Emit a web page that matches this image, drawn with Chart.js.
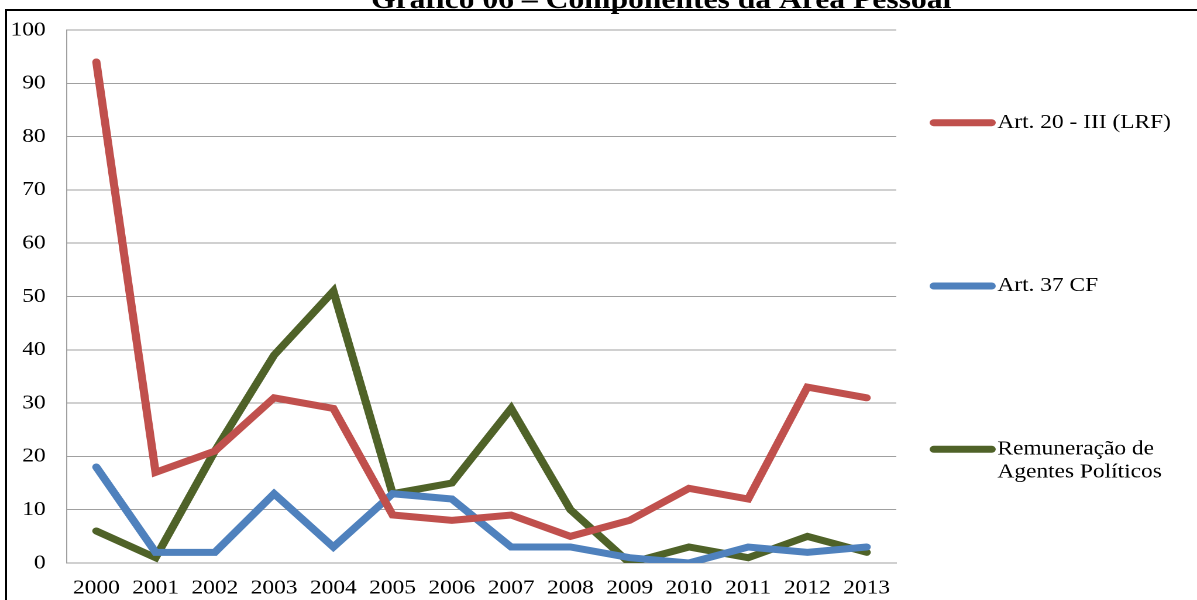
<!DOCTYPE html>
<html>
<head>
<meta charset="utf-8">
<script src="https://cdn.jsdelivr.net/npm/chart.js@4/dist/chart.umd.min.js"></script>
<style>
  html, body { margin: 0; padding: 0; background: #fff; overflow: hidden; width: 1197px; height: 600px; }
  #frame { position: absolute; left: 5px; top: 9px; width: 1400px; height: 800px;
           border-left: 2px solid #000; border-top: 2px solid #000; z-index: 0; }
  #wrap { position: absolute; left: 0; top: -30px; width: 1023px; height: 630px;
          transform: scaleX(1.1701); transform-origin: 0 0; z-index: 1; }
</style>
</head>
<body>
<div id="frame"></div>
<div id="wrap"><canvas id="c" width="1023" height="630"></canvas></div>
<script>
const chartTitle = 'Gráfico 06 – Componentes da Área Pessoal';
const years = ['2000','2001','2002','2003','2004','2005','2006','2007','2008','2009','2010','2011','2012','2013'];
const art20 = [94, 17, 21, 31, 29, 9, 8, 9, 5, 8, 14, 12, 33, 31];
const art37 = [18, 2, 2, 13, 3, 13, 12, 3, 3, 1, 0, 3, 2, 3];
const remuneracao = [6, 1, 21, 39, 51, 13, 15, 29, 10, 0, 3, 1, 5, 2];
const seriesLines = [['Art. 20 - III (LRF)'], ['Art. 37 CF'], ['Remuneração de', 'Agentes Políticos']];
const seriesColors = ['#C0504D', '#4F81BD', '#4F6228'];
const seriesData = [art20, art37, remuneracao];
const yTicks = [0, 10, 20, 30, 40, 50, 60, 70, 80, 90, 100];

const FONT = "'Liberation Serif', 'Times New Roman', serif";

const titlePlugin = {
  id: 'customTitle',
  afterDraw(chart) {
    const ctx = chart.ctx;
    ctx.save();
    ctx.font = "bold 27px " + FONT;
    ctx.fillStyle = '#000';
    ctx.textAlign = 'center';
    ctx.textBaseline = 'alphabetic';
    ctx.fillText(chartTitle, 565, 38);
    ctx.restore();
  }
};

const legendPlugin = {
  id: 'sideLegend',
  afterDraw(chart) {
    const ctx = chart.ctx;
    const area = chart.chartArea;
    ctx.save();
    chart.data.datasets.forEach((ds, i) => {
      const y = area.top + 92.7 + i * 163.3;
      ctx.strokeStyle = ds.borderColor;
      ctx.lineWidth = 7;
      ctx.lineCap = 'round';
      ctx.beginPath();
      ctx.moveTo(798, y);
      ctx.lineTo(847.5, y);
      ctx.stroke();
      ctx.font = "20px " + FONT;
      ctx.fillStyle = '#000';
      ctx.textAlign = 'left';
      ctx.textBaseline = 'alphabetic';
      seriesLines[i].forEach((line, j) => {
        ctx.fillText(line, 852.4, y + 5.2 + j * 23);
      });
    });
    ctx.restore();
  }
};

new Chart(document.getElementById('c'), {
  type: 'line',
  data: {
    labels: years,
    datasets: seriesData.map((d, i) => ({
      label: seriesLines[i].join(' '),
      data: d,
      borderColor: seriesColors[i],
      backgroundColor: seriesColors[i],
      borderWidth: 7,
      borderCapStyle: 'round',
      borderJoinStyle: 'miter',
      pointRadius: 0,
      pointHoverRadius: 0,
      tension: 0,
      fill: false
    }))
  },
  options: {
    responsive: false,
    animation: false,
    devicePixelRatio: 2,
    layout: { padding: { left: 0, right: 257, top: 60, bottom: 0 } },
    plugins: {
      legend: { display: false },
      title: { display: false },
      tooltip: { enabled: false }
    },
    scales: {
      x: {
        offset: true,
        grid: { display: false, drawTicks: false },
        border: { display: true, color: '#a0a0a0', width: 1 },
        ticks: { color: '#000', font: { family: FONT, size: 20 }, padding: 13, maxRotation: 0, autoSkip: false },
        afterFit(scale) { scale.height = 37; }
      },
      y: {
        min: 0,
        max: 100,
        afterBuildTicks(scale) { scale.ticks = yTicks.map(v => ({ value: v })); },
        grid: { color: '#a0a0a0', lineWidth: 1, drawTicks: false },
        border: { display: true, color: '#a0a0a0', width: 1 },
        ticks: { color: '#000', font: { family: FONT, size: 20 }, padding: 18 },
        afterFit(scale) { scale.width = 57; }
      }
    }
  },
  plugins: [titlePlugin, legendPlugin]
});
</script>
</body>
</html>
